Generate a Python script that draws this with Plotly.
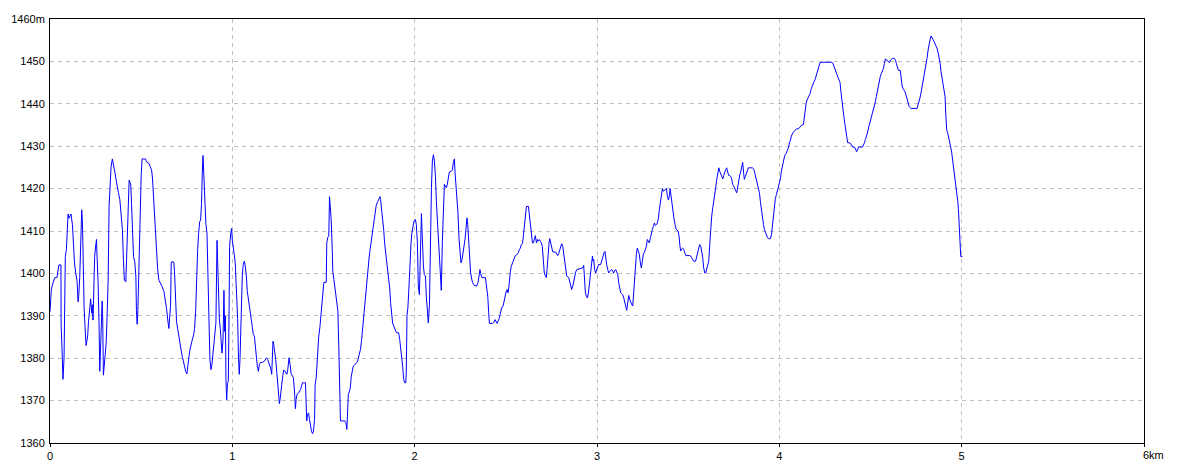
import plotly.graph_objects as go

# distance along the route (metres) and elevation (metres)
dist_m = [
    0, 7, 16, 26, 38, 44, 49, 60, 61, 68, 71, 77, 81, 84, 90, 95, 99, 104, 110, 115,
    123, 128, 134, 141, 148, 154, 158, 163, 167, 170, 174, 178, 181, 187, 192, 198, 203, 207, 211, 218,
    223, 229, 233, 236, 240, 245, 251, 255, 258, 264, 269, 273, 277, 282, 286, 289, 293, 297, 302, 308,
    313, 319, 324, 330, 335, 342, 346, 352, 357, 363, 368, 375, 383, 390, 397, 403, 408, 416, 419, 425,
    430, 434, 438, 443, 447, 452, 458, 465, 471, 474, 478, 482, 485, 489, 495, 500, 505, 524, 529, 542,
    549, 557, 562, 570, 577, 584, 590, 597, 606, 615, 625, 632, 639, 647, 652, 656, 661, 665, 679, 683,
    689, 694, 701, 707, 712, 718, 725, 731, 736, 744, 751, 755, 760, 767, 773, 780, 788, 793, 799, 804,
    810, 815, 821, 826, 831, 835, 839, 844, 850, 855, 861, 866, 872, 877, 883, 888, 894, 899, 905, 910,
    916, 919, 923, 929, 934, 940, 943, 949, 954, 958, 962, 965, 969, 973, 978, 982, 985, 991, 996, 1000,
    1005, 1011, 1016, 1022, 1029, 1034,
    1038, 1042, 1046, 1049, 1055, 1060, 1066, 1071, 1077, 1082, 1088, 1093, 1099, 1104, 1110, 1115, 1121, 1126, 1132, 1137,
    1143, 1148, 1154, 1165, 1176, 1181, 1187, 1194, 1200, 1205, 1211, 1216, 1220, 1223, 1227, 1233, 1238, 1244, 1249, 1255,
    1258, 1262, 1266, 1271, 1277, 1282, 1288, 1293, 1299, 1304, 1308, 1311, 1317, 1322, 1330, 1335, 1342, 1346, 1350, 1355,
    1363, 1368, 1374, 1379, 1385, 1401, 1405, 1408, 1412, 1418, 1423, 1429, 1434, 1440, 1445, 1451, 1454, 1460, 1465, 1469,
    1474, 1480, 1485, 1491, 1496, 1502, 1515, 1518, 1524, 1529, 1533, 1537, 1542, 1548, 1551, 1557, 1562, 1568, 1573, 1579,
    1584, 1590, 1593, 1617, 1623, 1628, 1632, 1636, 1641, 1647, 1652, 1658, 1663, 1668, 1674, 1681, 1687, 1692, 1698, 1703,
    1709, 1714, 1718, 1723, 1729, 1734, 1740, 1745, 1751, 1756, 1762, 1767, 1773, 1778, 1784, 1789, 1795, 1800, 1806, 1810,
    1813, 1819, 1824, 1830, 1835, 1841, 1846, 1852, 1857, 1863, 1868, 1874, 1879, 1885, 1890, 1896, 1901, 1912, 1918, 1923,
    1929, 1934, 1940, 1945, 1951, 1954, 1958, 1963, 1969, 1974, 1980, 1985, 1991, 1996,
    2004, 2009, 2015, 2020, 2026, 2029, 2035, 2037, 2040, 2044, 2048, 2053, 2059, 2064, 2070, 2075, 2081, 2086, 2092, 2097,
    2103, 2108, 2114, 2119, 2124, 2130, 2135, 2141, 2146, 2152, 2157, 2163, 2168, 2174, 2179, 2185, 2190, 2201, 2207, 2212,
    2218, 2221, 2227, 2232, 2238, 2243, 2249, 2254, 2260, 2265, 2271, 2276, 2282, 2287, 2291, 2296, 2302, 2307, 2313, 2318,
    2326, 2340, 2348, 2353, 2358, 2362, 2368, 2388, 2395, 2401, 2406, 2410, 2428, 2435, 2441, 2446, 2452, 2457, 2463, 2468,
    2474, 2479, 2485, 2490, 2496, 2501, 2507, 2512, 2516, 2519, 2525, 2530, 2536, 2541, 2547, 2552, 2563, 2569, 2574, 2580,
    2585, 2591, 2596, 2602, 2607, 2613, 2624, 2629, 2635, 2640, 2646, 2651, 2657, 2662, 2668, 2673, 2678, 2684, 2689, 2695,
    2700, 2706, 2711, 2717, 2722, 2726, 2731, 2737, 2741, 2746, 2752, 2757, 2774, 2779, 2785, 2790, 2795, 2801, 2806, 2812,
    2817, 2823, 2828, 2834, 2845, 2850, 2856, 2861, 2867, 2872, 2878, 2883, 2889, 2916, 2922, 2927, 2931, 2936, 2942, 2947,
    2953, 2958, 2964, 2969, 2975, 2978, 2982, 2987, 2993, 2998, 3004, 3009, 3020,
    3028, 3033, 3039, 3044, 3048, 3053, 3059, 3064, 3070, 3075, 3081, 3086, 3092, 3097, 3103, 3108, 3114, 3119, 3125, 3130,
    3136, 3141, 3147, 3152, 3157, 3163, 3168, 3174, 3179, 3185, 3190, 3196, 3200, 3205, 3211, 3216, 3221, 3227, 3232, 3238,
    3243, 3249, 3254, 3260, 3265, 3271, 3276, 3282, 3287, 3293, 3298, 3304, 3309, 3315, 3320, 3326, 3331, 3337, 3342, 3348,
    3353, 3359, 3364, 3370, 3375, 3381, 3386, 3392, 3397, 3401, 3406, 3412, 3417, 3423, 3428, 3434, 3445, 3450, 3455, 3459,
    3465, 3470, 3476, 3481, 3487, 3509, 3514, 3519, 3525, 3530, 3541, 3547, 3552, 3558, 3563, 3569, 3574, 3580, 3585, 3591,
    3596, 3602, 3607, 3613, 3618, 3624, 3629, 3635, 3640, 3646, 3651, 3657, 3662, 3668, 3673, 3679, 3684, 3690, 3695, 3700,
    3706, 3711, 3717, 3722, 3728, 3733, 3739, 3744, 3750, 3755, 3761, 3766, 3772, 3777, 3783, 3788, 3794, 3799, 3805, 3808,
    3814, 3819, 3825, 3830, 3852, 3858, 3863, 3869, 3874, 3880, 3885, 3891, 3896, 3902, 3907, 3913, 3918, 3924, 3929, 3935,
    3940, 3951, 3957, 3962, 3967, 3973, 3978, 3984, 3989, 3995, 4000, 4006, 4011, 4017, 4022, 4028, 4033, 4039, 4044, 4050,
    4055, 4061, 4066, 4072, 4077, 4083, 4088, 4094, 4105, 4110, 4116, 4121, 4132,
    4136, 4141, 4147, 4152, 4158, 4163, 4169, 4174, 4180, 4185, 4190, 4196, 4201, 4207, 4212, 4218, 4223, 4229, 4289, 4295,
    4300, 4306, 4311, 4317, 4322, 4328, 4333, 4337, 4342, 4348, 4353, 4359, 4364, 4370, 4375, 4386, 4392, 4397, 4403, 4414,
    4419, 4424, 4428, 4434, 4456, 4461, 4467, 4472, 4478, 4483, 4489, 4494, 4499, 4505, 4510, 4516, 4521, 4527, 4532, 4538,
    4543, 4549, 4554, 4560, 4565, 4571, 4576, 4582, 4587, 4593, 4598, 4604, 4609, 4615, 4620, 4631, 4637, 4642, 4648, 4653,
    4664, 4668, 4673, 4679, 4684, 4690, 4695, 4701, 4706, 4712, 4717, 4723, 4755, 4761, 4766, 4772, 4777, 4783, 4788, 4794,
    4799, 4805, 4810, 4816, 4821, 4827, 4832, 4838, 4843, 4849, 4854, 4860, 4865, 4871, 4876, 4882, 4887, 4893, 4898, 4904,
    4909, 4913, 4918, 4924, 4929, 4935, 4940, 4946, 4951, 4957, 4962, 4967, 4973, 4978, 4982, 4986, 4988, 4991, 4995, 5004,
]

elev_m = [
    1391.0, 1396.1, 1397.7, 1399.0, 1399.0, 1401.1, 1402.0, 1402.0, 1388.0, 1379.6, 1375.0, 1380.0, 1389.5, 1404.0, 1405.7, 1410.6, 1414.0, 1413.0, 1413.5, 1414.0,
    1411.5, 1407.0, 1402.7, 1400.0, 1398.4, 1393.3, 1395.0, 1399.0, 1403.5, 1410.0, 1415.0, 1412.0, 1401.5, 1392.0, 1387.5, 1383.0, 1384.3, 1385.5, 1388.6, 1393.0,
    1394.0, 1390.6, 1392.6, 1389.0, 1395.0, 1404.0, 1406.7, 1408.0, 1404.0, 1397.7, 1388.0, 1376.9, 1382.0, 1390.0, 1393.5, 1389.5, 1376.0, 1378.0, 1380.4, 1383.5,
    1389.8, 1398.4, 1415.8, 1421.7, 1425.2, 1427.0, 1426.2, 1425.2, 1423.6, 1422.0, 1420.2, 1419.1, 1417.4, 1414.3, 1410.4, 1403.0, 1398.4, 1398.0, 1402.4, 1409.0,
    1417.4, 1422.0, 1421.6, 1420.8, 1416.5, 1407.8, 1404.0, 1402.7, 1399.2, 1391.3, 1388.0, 1391.3, 1397.7, 1405.5, 1414.3, 1423.0, 1427.0, 1427.0, 1426.3, 1426.0,
    1425.2, 1424.4, 1422.5, 1416.4, 1408.7, 1404.1, 1401.2, 1398.4, 1397.7, 1396.9, 1395.7, 1394.1, 1391.7, 1388.6, 1387.0, 1389.5, 1392.2, 1402.7, 1402.7, 1400.4,
    1393.5, 1388.6, 1386.7, 1385.0, 1383.5, 1381.9, 1380.4, 1379.4, 1378.0, 1376.9, 1376.3, 1377.4, 1379.6, 1381.9, 1383.5, 1384.3, 1385.5, 1387.0, 1391.3, 1399.2,
    1405.9, 1409.4, 1412.2, 1412.6, 1416.5, 1423.4, 1427.8, 1423.0, 1415.5, 1411.6, 1409.4, 1396.9, 1389.0, 1379.6, 1377.3, 1378.5, 1381.2, 1383.5, 1385.9, 1388.3,
    1407.8, 1403.0, 1394.5, 1389.0, 1387.0, 1382.7, 1381.2, 1384.3, 1396.0, 1386.3, 1390.0, 1374.9, 1370.2, 1374.1, 1374.5, 1390.3, 1406.3, 1409.4, 1410.6, 1407.8,
    1405.5, 1404.3, 1402.4, 1397.7, 1389.4, 1380.0,
    1376.2, 1379.7, 1386.0, 1395.0, 1400.0, 1402.1, 1402.9, 1401.7, 1399.4, 1395.8, 1394.2, 1392.3, 1390.7, 1389.1, 1387.2, 1385.6, 1385.2, 1382.8, 1379.7, 1378.1,
    1376.9, 1378.5, 1379.0, 1379.0, 1379.3, 1379.7, 1380.1, 1379.7, 1378.9, 1378.1, 1377.5, 1376.2, 1379.7, 1384.0, 1383.2, 1381.7, 1379.7, 1376.6, 1373.8, 1371.5,
    1369.3, 1370.3, 1372.6, 1373.8, 1375.9, 1377.2, 1377.0, 1376.4, 1376.2, 1377.3, 1378.9, 1380.1, 1378.5, 1376.4, 1375.8, 1375.4, 1371.5, 1368.1, 1370.3, 1371.5,
    1371.8, 1372.1, 1372.6, 1373.4, 1374.2, 1374.2, 1369.9, 1365.2, 1366.7, 1367.1, 1365.6, 1364.0, 1362.8, 1362.2, 1362.8, 1365.6, 1373.8, 1375.4, 1379.3, 1383.2,
    1385.2, 1387.2, 1389.9, 1393.1, 1396.2, 1397.9, 1397.9, 1407.2, 1408.6, 1408.8, 1418.1, 1416.3, 1412.7, 1405.6, 1400.3, 1398.6, 1396.8, 1394.6, 1392.9, 1391.1,
    1382.5, 1370.1, 1365.2, 1365.2, 1364.8, 1363.2, 1367.1, 1371.5, 1372.0, 1373.0, 1375.6, 1377.0, 1378.1, 1378.3, 1378.5, 1378.9, 1379.3, 1380.1, 1380.9, 1382.1,
    1384.4, 1386.8, 1389.5, 1392.3, 1394.6, 1397.4, 1399.4, 1401.7, 1404.1, 1405.8, 1407.6, 1409.6, 1411.1, 1413.1, 1414.7, 1416.0, 1416.7, 1417.1, 1417.6, 1418.1,
    1417.4, 1415.1, 1412.7, 1410.4, 1407.2, 1405.0, 1402.9, 1401.3, 1399.4, 1396.6, 1393.1, 1390.3, 1388.3, 1387.6, 1386.8, 1386.4, 1386.0, 1386.0, 1384.4, 1382.5,
    1381.3, 1378.1, 1375.0, 1374.2, 1374.2, 1376.6, 1390.1, 1392.0, 1397.0, 1402.5, 1407.2, 1409.6, 1411.5, 1412.3,
    1412.7, 1411.5, 1407.2, 1397.0, 1395.0, 1401.0, 1410.6, 1414.1, 1410.6, 1405.2, 1401.7, 1399.7, 1399.4, 1394.6, 1389.5, 1388.3, 1392.6, 1411.1, 1420.2, 1426.5,
    1428.0, 1426.5, 1422.9, 1417.0, 1413.1, 1409.2, 1406.0, 1400.0, 1396.0, 1407.6, 1416.7, 1421.0, 1420.6, 1420.2, 1421.0, 1423.3, 1423.9, 1424.1, 1424.4, 1426.1,
    1427.0, 1424.1, 1420.2, 1418.6, 1413.9, 1408.4, 1404.9, 1402.5, 1403.3, 1404.9, 1405.6, 1408.0, 1410.8, 1413.1, 1411.5, 1408.0, 1403.4, 1400.1, 1398.6, 1397.8,
    1397.2, 1397.0, 1397.9, 1399.0, 1400.9, 1400.0, 1399.0, 1399.0, 1397.0, 1394.6, 1390.7, 1388.2, 1388.2, 1388.5, 1389.1, 1388.7, 1388.2, 1388.7, 1389.3, 1390.3,
    1391.3, 1392.1, 1392.3, 1393.5, 1394.6, 1395.6, 1396.2, 1395.4, 1396.6, 1398.6, 1400.5, 1401.7, 1402.5, 1403.1, 1403.7, 1404.2, 1404.5, 1404.9, 1405.6, 1406.0,
    1406.8, 1407.0, 1408.8, 1411.5, 1414.3, 1415.8, 1415.8, 1413.9, 1410.8, 1408.4, 1407.2, 1407.2, 1408.0, 1408.9, 1407.2, 1408.0, 1407.6, 1408.0, 1407.6, 1407.2,
    1406.4, 1403.1, 1400.1, 1399.4, 1399.0, 1400.9, 1404.5, 1407.2, 1408.2, 1407.2, 1405.3, 1405.1, 1405.0, 1404.7, 1404.2, 1404.7, 1405.5, 1406.4, 1407.0, 1406.4,
    1404.5, 1402.9, 1400.5, 1399.4, 1399.0, 1398.2, 1396.6, 1396.2, 1397.0, 1398.2, 1399.4, 1400.3, 1400.9, 1401.1, 1401.3, 1401.9, 1399.4, 1395.6, 1394.6, 1394.2,
    1395.4, 1397.4, 1399.4, 1402.1, 1404.1, 1402.9, 1403.3, 1400.9, 1400.1, 1400.9, 1401.6, 1402.1, 1402.1,
    1403.3, 1404.5, 1404.9, 1405.2, 1403.4, 1402.1, 1400.9, 1400.1, 1400.5, 1400.7, 1400.9, 1400.5, 1400.1, 1400.7, 1400.9, 1400.3, 1399.7, 1397.8, 1396.6, 1395.4,
    1395.2, 1395.0, 1394.2, 1393.5, 1392.3, 1391.3, 1393.0, 1394.8, 1393.9, 1393.1, 1392.7, 1392.3, 1394.6, 1399.0, 1402.9, 1404.5, 1406.0, 1405.3, 1404.5, 1402.5,
    1401.3, 1402.9, 1404.5, 1405.0, 1405.6, 1406.4, 1408.0, 1407.4, 1407.2, 1408.4, 1409.6, 1410.4, 1411.1, 1411.9, 1411.3, 1411.5, 1411.9, 1413.1, 1415.1, 1417.0,
    1419.0, 1420.0, 1419.4, 1419.6, 1419.8, 1420.0, 1418.3, 1417.3, 1418.3, 1420.0, 1418.3, 1415.9, 1413.5, 1412.7, 1411.5, 1410.4, 1410.0, 1408.8, 1406.4, 1405.3,
    1405.8, 1406.0, 1405.6, 1404.9, 1404.2, 1404.2, 1404.1, 1403.7, 1403.1, 1402.9, 1402.9, 1404.1, 1405.3, 1406.4, 1406.8, 1406.4, 1405.3, 1403.7, 1401.3, 1400.1,
    1400.1, 1400.9, 1401.7, 1402.9, 1406.6, 1411.1, 1413.5, 1415.5, 1416.7, 1418.3, 1420.2, 1422.2, 1424.1, 1424.9, 1424.1, 1423.3, 1422.8, 1422.3, 1423.1, 1423.9,
    1424.5, 1424.9, 1424.1, 1423.1, 1423.1, 1422.9, 1422.2, 1421.0, 1420.6, 1420.0, 1419.6, 1419.0, 1420.4, 1422.2, 1423.3, 1423.9, 1424.9, 1426.2, 1423.3, 1422.2,
    1422.9, 1423.7, 1424.5, 1424.9, 1424.9, 1424.7, 1424.1, 1422.9, 1421.8, 1420.6, 1420.2, 1419.0, 1417.0, 1414.7, 1413.1, 1411.5, 1410.4, 1409.6, 1408.8, 1408.4,
    1408.2, 1408.2, 1409.1, 1411.1, 1413.7, 1415.8, 1417.6, 1418.6, 1419.4, 1420.2, 1421.0, 1422.3, 1424.1, 1425.3, 1426.9, 1427.5, 1428.1, 1428.4, 1429.1, 1429.6,
    1430.8, 1431.4, 1432.4, 1433.0, 1433.3, 1433.6, 1433.8, 1434.1, 1434.1, 1434.3, 1434.7, 1434.9, 1435.1,
    1436.9, 1438.5, 1440.1, 1440.9, 1441.5, 1442.0, 1442.4, 1443.4, 1444.2, 1444.8, 1445.2, 1445.7, 1446.4, 1447.2, 1448.1, 1448.9, 1449.7, 1449.8, 1449.8, 1449.4,
    1448.7, 1448.0, 1447.3, 1446.5, 1446.2, 1445.6, 1445.0, 1443.2, 1440.9, 1438.5, 1437.3, 1435.4, 1433.4, 1432.2, 1430.8, 1430.8, 1430.5, 1430.1, 1429.8, 1429.7,
    1429.2, 1428.7, 1429.0, 1429.8, 1429.8, 1430.2, 1430.8, 1431.6, 1432.2, 1433.1, 1434.3, 1435.4, 1436.1, 1436.9, 1437.7, 1438.5, 1439.4, 1440.5, 1441.7, 1443.1,
    1444.4, 1445.6, 1446.5, 1447.2, 1447.8, 1448.3, 1449.5, 1450.6, 1450.3, 1450.2, 1449.9, 1449.7, 1450.3, 1450.5, 1450.7, 1450.7, 1450.3, 1449.5, 1448.3, 1447.9,
    1447.8, 1446.0, 1444.2, 1443.6, 1443.2, 1442.8, 1442.0, 1440.9, 1440.1, 1439.4, 1439.1, 1438.9, 1438.9, 1439.7, 1440.5, 1441.5, 1442.6, 1444.0, 1445.2, 1446.0,
    1447.6, 1448.9, 1450.7, 1452.7, 1454.3, 1455.2, 1456.0, 1455.7, 1455.2, 1454.6, 1454.1, 1453.5, 1453.1, 1452.0, 1451.1, 1449.5, 1447.6, 1446.0, 1444.4, 1442.8,
    1441.7, 1437.3, 1433.8, 1433.0, 1432.2, 1431.0, 1429.8, 1428.3, 1426.7, 1423.9, 1422.4, 1421.2, 1419.6, 1417.2, 1415.3, 1412.5, 1409.0, 1406.2, 1404.0, 1404.0,
]

x_tick_vals = [0, 1, 2, 3, 4, 5, 6]
x_tick_text = ["0", "1", "2", "3", "4", "5", ""]
x_unit_label = "6km"
y_tick_vals = [1360, 1370, 1380, 1390, 1400, 1410, 1420, 1430, 1440, 1450, 1460]
y_tick_text = ["1360", "1370", "1380", "1390", "1400", "1410", "1420", "1430", "1440", "1450", "1460m"]

dist_km = [d / 1000 for d in dist_m]

fig = go.Figure()
fig.add_trace(go.Scatter(
    x=dist_km, y=elev_m, mode="lines",
    line=dict(color="#0000ff", width=1),
    hoverinfo="skip", showlegend=False,
))

font = dict(family="Liberation Sans Narrow, Liberation Sans, Arial, sans-serif", size=11, color="#000000")
grid = dict(showgrid=True, gridcolor="#c0c0c0", gridwidth=1, griddash="4px,4px",
            showline=True, linecolor="#000000", linewidth=1, mirror=True,
            zeroline=False, tickfont=font, fixedrange=True, automargin=False)

fig.update_xaxes(range=[0, 6], tickvals=x_tick_vals, ticktext=x_tick_text,
                 ticks="outside", ticklen=3, tickcolor="#000000", **grid)
fig.update_yaxes(range=[1360, 1460], tickvals=y_tick_vals, ticktext=y_tick_text,
                 ticks="", ticklabelstandoff=2, **grid)

# unit label at the end of the distance axis, set just right of the last tick
fig.add_annotation(x=x_tick_vals[-1], xref="x", y=0, yref="paper",
                   text=x_unit_label, showarrow=False, font=font,
                   xanchor="left", yanchor="top", xshift=-3, yshift=-4)

fig.update_layout(
    width=1184, height=473,
    margin=dict(l=50, r=40, t=19, b=30, autoexpand=False),
    paper_bgcolor="#ffffff", plot_bgcolor="#ffffff",
    font=font,
)

fig.write_html("out.html", config={"displayModeBar": False},
               post_script="document.body.style.margin='0';document.body.style.overflow='hidden';")
